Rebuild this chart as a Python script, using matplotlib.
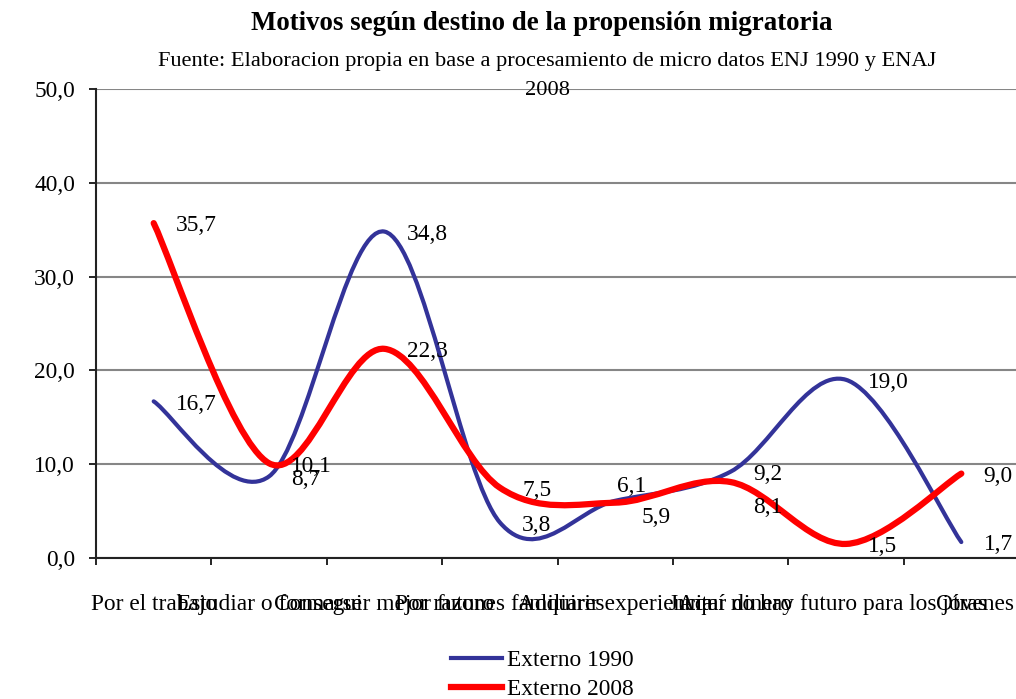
import numpy as np
import matplotlib
matplotlib.use("Agg")
import matplotlib.pyplot as plt
from matplotlib.path import Path
from matplotlib.patches import PathPatch
from matplotlib.lines import Line2D
from matplotlib.ticker import FuncFormatter

plt.rcParams['font.family'] = ['Liberation Serif', 'DejaVu Serif']

# datos
motivos = ["Por el trabajo", "Estudiar o formarse", "Conseguir mejor futuro",
           "Por razones familiares", "Adquirir experiencia", "Juntar dinero",
           "Aquí no hay futuro para los jóvenes", "Otras"]
externo_1990 = [16.7, 8.7, 34.8, 3.8, 6.1, 9.2, 19.0, 1.7]
externo_2008 = [35.7, 10.1, 22.3, 7.5, 5.9, 8.1, 1.5, 9.0]

AZUL = '#333399'
ROJO = '#ff0000'
FS = 16.8


def curva_suave(xs, ys):
    # curva tipo Excel (Catmull-Rom en forma Bezier)
    p = np.column_stack([xs, ys]).astype(float)
    p = np.vstack([p[0], p, p[-1]])
    verts = [p[1]]
    codes = [Path.MOVETO]
    for i in range(1, len(p) - 2):
        b1 = p[i] + (p[i + 1] - p[i - 1]) / 6
        b2 = p[i + 1] - (p[i + 2] - p[i]) / 6
        verts += [b1, b2, p[i + 1]]
        codes += [Path.CURVE4] * 3
    return Path(verts, codes)


fig = plt.figure(figsize=(10.16, 6.99), dpi=100)
ax = fig.add_axes([96 / 1016, 141 / 699, 923 / 1016, 469 / 699])

x = np.arange(len(motivos))
series = [(externo_1990, AZUL, 3.0, 'Externo 1990'),
          (externo_2008, ROJO, 4.5, 'Externo 2008')]
for vals, col, lw, nombre in series:
    ax.add_patch(PathPatch(curva_suave(x, vals), fill=False, edgecolor=col,
                           lw=lw, capstyle='round', joinstyle='round', zorder=3))

# etiquetas de datos (desplazamiento en puntos)
ajustes = {(0, 4): (1, 10), (1, 4): (19, -11), (1, 5): (16, -18)}
for s, (vals, col, lw, nombre) in enumerate(series):
    for i, v in enumerate(vals):
        dx, dy = ajustes.get((s, i), (16, -2))
        ax.annotate(f"{v:.1f}".replace('.', ','), (x[i], v), xytext=(dx, dy),
                    textcoords='offset points', ha='left', va='center',
                    fontsize=FS, zorder=4)

ax.set_xlim(-0.5, len(motivos) - 0.5)
ax.set_ylim(0, 50)
ax.set_yticks(np.arange(0, 51, 10))
ax.yaxis.set_major_formatter(FuncFormatter(lambda v, p: f"{v:.1f}".replace('.', ',')))
ax.grid(axis='y', color='#868686', lw=1.5, zorder=0)
ax.set_axisbelow(True)

ax.set_xticks(np.arange(-0.5, len(motivos), 1))
ax.set_xticklabels([])
ax.set_xticks(x, minor=True)
ax.set_xticklabels(motivos, minor=True)
ax.tick_params(axis='x', which='minor', length=0, pad=26, labelsize=FS)
ax.tick_params(axis='x', which='major', length=5, width=1.2, direction='out')
ax.tick_params(axis='y', length=5, width=1.2, pad=10, labelsize=FS)

for lado in ['top', 'right']:
    ax.spines[lado].set_visible(False)
for lado in ['left', 'bottom']:
    ax.spines[lado].set_linewidth(1.5)
    ax.spines[lado].set_color('#222222')

fig.text(0.533, 1 - 23 / 699, "Motivos según destino de la propensión migratoria",
         ha='center', va='center', fontsize=19.4, fontweight='bold')
fig.text(0.539, 1 - 52 / 699,
         "Fuente: Elaboracion propia en base a procesamiento de micro datos ENJ 1990 y ENAJ\n2008",
         ha='center', va='top', fontsize=16.1, linespacing=1.72)

handles = [Line2D([], [], color=c, lw=lw) for _, c, lw, _ in series]
fig.legend(handles, [n for *_, n in series], loc='center',
           bbox_to_anchor=(542 / 1016, 1 - 675 / 699), frameon=False,
           fontsize=FS, handlelength=2.2, handletextpad=0.2, labelspacing=0.3)

fig.savefig('out.png', dpi=100)
